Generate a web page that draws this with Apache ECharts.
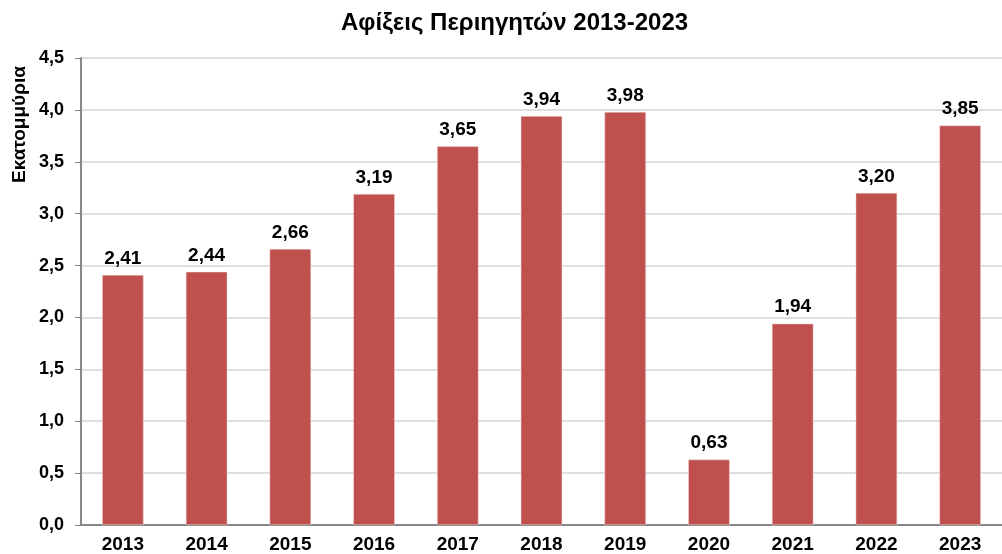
<!DOCTYPE html>
<html><head><meta charset="utf-8">
<script src="https://cdn.jsdelivr.net/npm/echarts@6/dist/echarts.min.js"></script>
<style>html,body{margin:0;padding:0;background:#fff}#c{width:1002px;height:554px}</style>
</head><body><div id="c"></div>
<script>
const years = ['2013','2014','2015','2016','2017','2018','2019','2020','2021','2022','2023'];
const arrivals = [2.41, 2.44, 2.66, 3.19, 3.65, 3.94, 3.98, 0.63, 1.94, 3.20, 3.85];
const titleText = 'Αφίξεις Περιηγητών 2013-2023';
const yName = 'Εκατομμύρια';

const fmt = v => v.toFixed(1).replace('.', ',');
const chart = echarts.init(document.getElementById('c'), null, {renderer:'canvas'});
chart.setOption({
  animation: false,
  textStyle: {fontFamily: 'Liberation Sans, Arial, sans-serif'},
  title: {
    text: titleText, left: 336, top: 6,
    textStyle: {fontSize: 24, fontWeight: 'bold', color: '#000', fontFamily: 'Liberation Sans'}
  },
  graphic: [{
    type: 'text', x: 10, y: 183, rotation: Math.PI/2,
    style: {text: yName, font: 'bold 19px "Liberation Sans"', fill: '#000', textAlign: 'left', textVerticalAlign: 'top'}
  }],
  grid: {left: 81, top: 58, width: 934, height: 468, containLabel: false},
  xAxis: {
    type: 'category', data: years,
    axisLine: {lineStyle: {color: '#888', width: 2}},
    axisTick: {show: false},
    axisLabel: {color: '#000', fontSize: 19, fontWeight: 'bold', margin: 10, fontFamily: 'Liberation Sans'}
  },
  yAxis: {
    type: 'value', min: 0, max: 4.5, interval: 0.5,
    axisLine: {show: true, lineStyle: {color: '#888', width: 2}},
    axisTick: {show: true, length: 6, lineStyle: {color: '#888', width: 1}},
    splitLine: {lineStyle: {color: '#d4d4d4', width: 1.5}},
    axisLabel: {color: '#000', fontSize: 18, fontWeight: 'bold', margin: 17, formatter: fmt, fontFamily: 'Liberation Sans'}
  },
  series: [{
    type: 'bar', data: arrivals, barWidth: '49.5%',
    itemStyle: {color: '#C0504D', borderColor: '#f0e0e0', borderWidth: 0.5},
    label: {
      show: true, position: 'top', distance: 7, color: '#000', fontSize: 19, fontWeight: 'bold',
      fontFamily: 'Liberation Sans',
      formatter: p => p.value.toFixed(2).replace('.', ',')
    }
  }]
});
</script></body></html>
